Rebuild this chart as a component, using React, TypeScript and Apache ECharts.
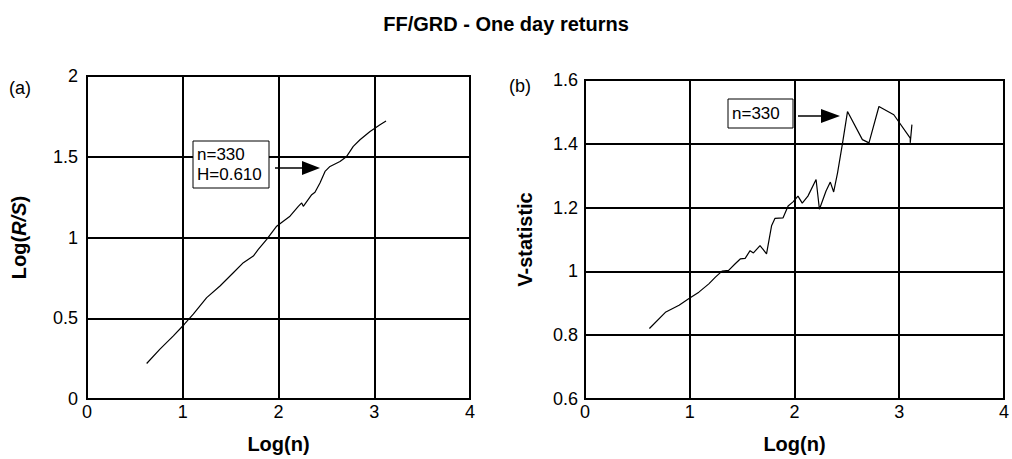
import React, { useEffect, useRef } from "react";
import * as echarts from "echarts";

const title = "FF/GRD - One day returns";

// Panel (a): Log(n) vs Log(R/S)
const rsLogN = [0.623, 0.762, 0.902, 1.017, 1.11, 1.25, 1.389, 1.528, 1.633, 1.737, 1.789, 1.877, 1.981, 2.05, 2.12, 2.207, 2.242, 2.259, 2.347, 2.381, 2.433, 2.486, 2.538, 2.642, 2.712, 2.781, 2.851, 2.956, 3.06, 3.123];
const rsLogRS = [0.22, 0.309, 0.391, 0.463, 0.525, 0.628, 0.7, 0.782, 0.844, 0.885, 0.926, 0.988, 1.07, 1.101, 1.132, 1.193, 1.214, 1.193, 1.265, 1.28, 1.337, 1.409, 1.44, 1.471, 1.502, 1.564, 1.605, 1.656, 1.698, 1.722];

// Panel (b): Log(n) vs V-statistic
const vLogN = [0.615, 0.772, 0.898, 0.993, 1.087, 1.182, 1.245, 1.308, 1.371, 1.434, 1.482, 1.529, 1.576, 1.608, 1.671, 1.733, 1.781, 1.813, 1.891, 1.939, 1.986, 2.033, 2.074, 2.128, 2.206, 2.238, 2.301, 2.342, 2.374, 2.411, 2.459, 2.506, 2.648, 2.711, 2.806, 2.948, 3.105, 3.105, 3.121];
const vStat = [0.821, 0.873, 0.894, 0.915, 0.935, 0.961, 0.982, 1.001, 1.003, 1.024, 1.039, 1.041, 1.065, 1.058, 1.081, 1.055, 1.143, 1.166, 1.168, 1.205, 1.218, 1.236, 1.214, 1.236, 1.288, 1.195, 1.252, 1.28, 1.249, 1.309, 1.403, 1.501, 1.413, 1.403, 1.517, 1.491, 1.418, 1.403, 1.46];

const FONT = "'Liberation Sans', Arial, sans-serif";

export default function App() {
  const ref = useRef<HTMLDivElement>(null);
  useEffect(() => {
    if (!ref.current) return;
    const chart = echarts.init(ref.current, null, { renderer: "svg" });
    const axisLabel = { color: "#000", fontSize: 18, fontFamily: FONT };
    const line = { lineStyle: { color: "#000", width: 2 } };
    const nameStyle = { color: "#000", fontSize: 20, fontWeight: "bold" as const, fontFamily: FONT };
    const xBase = {
      type: "value" as const,
      min: 0,
      max: 4,
      interval: 1,
      name: "Log(n)",
      nameLocation: "middle" as const,
      nameGap: 35,
      nameTextStyle: nameStyle,
      axisLine: { show: true, ...line },
      axisTick: { show: false },
      axisLabel: { ...axisLabel, margin: 4 },
      splitLine: { show: true, ...line },
    };
    chart.setOption({
      animation: false,
      backgroundColor: "#fff",
      title: {
        text: title,
        left: "center",
        top: 9,
        textStyle: { fontSize: 20, fontWeight: "bold", color: "#000", fontFamily: FONT },
      },
      grid: [
        { left: 87, top: 76, width: 383, height: 324, show: true, borderColor: "#000", borderWidth: 2 },
        { left: 585, top: 80, width: 423, height: 321, show: true, borderColor: "#000", borderWidth: 2 },
      ],
      xAxis: [
        { ...xBase, gridIndex: 0 },
        { ...xBase, gridIndex: 1 },
      ],
      yAxis: [
        {
          type: "value",
          gridIndex: 0,
          min: 0,
          max: 2,
          interval: 0.5,
          name: "Log({i|R/S})",
          nameLocation: "middle",
          nameGap: 58,
          nameTextStyle: {
            ...nameStyle,
            rich: { i: { fontSize: 20, fontWeight: "bold", fontStyle: "italic", fontFamily: FONT, color: "#000" } },
          },
          axisLine: { show: true, ...line },
          axisTick: { show: false },
          axisLabel: { ...axisLabel, margin: 9 },
          splitLine: { show: true, ...line },
        },
        {
          type: "value",
          gridIndex: 1,
          min: 0.6,
          max: 1.6,
          interval: 0.2,
          name: "V-statistic",
          nameLocation: "middle",
          nameGap: 50,
          nameTextStyle: nameStyle,
          axisLine: { show: true, ...line },
          axisTick: { show: false },
          axisLabel: { ...axisLabel, margin: 7 },
          splitLine: { show: true, ...line },
        },
      ],
      series: [
        {
          type: "line",
          xAxisIndex: 0,
          yAxisIndex: 0,
          data: rsLogN.map((x, i) => [x, rsLogRS[i]]),
          showSymbol: false,
          lineStyle: { color: "#000", width: 1.2 },
        },
        {
          type: "line",
          xAxisIndex: 1,
          yAxisIndex: 1,
          data: vLogN.map((x, i) => [x, vStat[i]]),
          showSymbol: false,
          lineStyle: { color: "#000", width: 1.2 },
        },
      ],
      graphic: [
        { type: "text", left: 9, top: 79, style: { text: "(a)", fontSize: 18, fontFamily: FONT, fill: "#000" } },
        { type: "text", left: 509, top: 77, style: { text: "(b)", fontSize: 18, fontFamily: FONT, fill: "#000" } },
        // annotation a
        { type: "rect", shape: { x: 193, y: 141, width: 76, height: 47 }, style: { fill: "#fff", stroke: "#000", lineWidth: 1 }, z: 10 },
        { type: "text", x: 197, y: 144, style: { text: "n=330\nH=0.610", fontSize: 17, lineHeight: 20, fontFamily: FONT, fill: "#000" }, z: 11 },
        { type: "line", shape: { x1: 275, y1: 168, x2: 304, y2: 168 }, style: { stroke: "#000", lineWidth: 1.5 }, z: 10 },
        { type: "polygon", shape: { points: [[302, 161], [320, 168], [302, 175]] }, style: { fill: "#000" }, z: 10 },
        // annotation b
        { type: "rect", shape: { x: 728, y: 99, width: 65, height: 29 }, style: { fill: "#fff", stroke: "#000", lineWidth: 1 }, z: 10 },
        { type: "text", x: 732, y: 105, style: { text: "n=330", fontSize: 17, fontFamily: FONT, fill: "#000" }, z: 11 },
        { type: "line", shape: { x1: 798, y1: 116, x2: 823, y2: 116 }, style: { stroke: "#000", lineWidth: 1.5 }, z: 10 },
        { type: "polygon", shape: { points: [[821, 109], [840, 116], [821, 123]] }, style: { fill: "#000" }, z: 10 },
      ],
    });
    return () => chart.dispose();
  }, []);
  return <div ref={ref} style={{ position: "absolute", left: 0, top: 0, width: 1012, height: 459 }} />;
}
